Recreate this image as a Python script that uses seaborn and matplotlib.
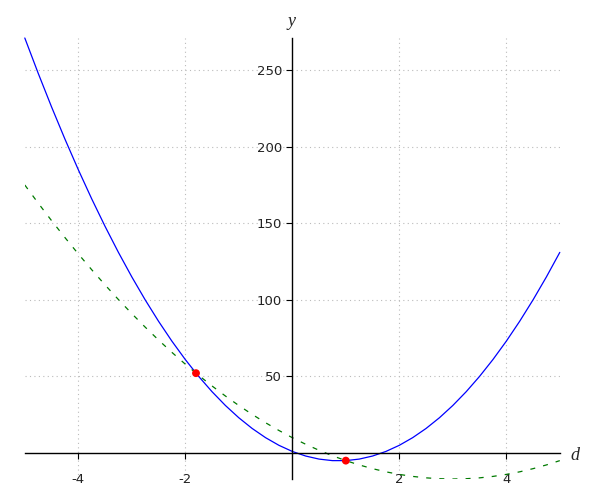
import numpy as np
import pandas as pd
import matplotlib
matplotlib.use("Agg")
import matplotlib.pyplot as plt
import seaborn as sns

# ---- data ----
d_vals = [-5.0, -4.75, -4.5, -4.25, -4.0, -3.75, -3.5, -3.25, -3.0, -2.75,
          -2.5, -2.25, -2.0, -1.75, -1.5, -1.25, -1.0, -0.75, -0.5, -0.25,
          0.0, 0.25, 0.5, 0.75, 1.0, 1.25, 1.5, 1.75, 2.0, 2.25,
          2.5, 2.75, 3.0, 3.25, 3.5, 3.75, 4.0, 4.25, 4.5, 4.75, 5.0]
blue_vals = [271, 248, 226, 205, 185, 166, 148, 131, 115, 100,
             86, 73, 61, 50, 40, 31, 23, 16, 10, 5,
             1, -2, -4, -5, -5, -4, -2, 1, 5, 10,
             16, 23, 31, 40, 50, 61, 73, 86, 100, 115, 131]
green_vals = [175, 163.19, 151.75, 140.69, 130, 119.69, 109.75, 100.19, 91, 82.19,
              73.75, 65.69, 58, 50.69, 43.75, 37.19, 31, 25.19, 19.75, 14.69,
              10, 5.69, 1.75, -1.81, -5, -7.81, -10.25, -12.31, -14, -15.31,
              -16.25, -16.81, -17, -16.81, -16.25, -15.31, -14, -12.31, -10.25, -7.81, -5]
point_d = [-1.8, 1.0]
point_y = [52.12, -5.0]
x_ticks = [-4, -2, 2, 4]
y_ticks = [50, 100, 150, 200, 250]

sns.set_style("white")
plt.rcParams["axes.unicode_minus"] = False
plt.rcParams["font.family"] = ["DejaVu Sans"]

blue_df = pd.DataFrame({"d": d_vals, "y": blue_vals})
green_df = pd.DataFrame({"d": d_vals, "y": green_vals})
pts_df = pd.DataFrame({"d": point_d, "y": point_y})

fig = plt.figure(figsize=(6, 5), dpi=100)
ax = fig.add_axes([24.8 / 600, 1 - 479 / 500, 535 / 600, 441 / 500])

sns.lineplot(data=blue_df, x="d", y="y", ax=ax, color="#0000ff", lw=0.9,
             clip_on=False)
sns.lineplot(data=green_df, x="d", y="y", ax=ax, color="#007a00", lw=0.9,
             dashes=False)
ax.lines[-1].set_dashes((4, 6.5))
sns.scatterplot(data=pts_df, x="d", y="y", ax=ax, color="#ff0000", s=32,
                edgecolor="none", zorder=5, clip_on=False)

ax.set_xlim(-5, 5)
ax.set_ylim(-17, 271)
ax.set_xticks(x_ticks)
ax.set_yticks(y_ticks)
ax.set_xticklabels([str(v) for v in x_ticks])
ax.set_yticklabels([str(v) for v in y_ticks])

for s in ["top", "right"]:
    ax.spines[s].set_visible(False)
ax.spines["left"].set_position(("data", 0))
ax.spines["bottom"].set_position(("data", 0))
for s in ["left", "bottom"]:
    ax.spines[s].set_color("black")
    ax.spines[s].set_linewidth(1.0)

ax.tick_params(axis="y", direction="out", length=4.5, width=0.8, pad=3,
               labelsize=9.5, colors="black", left=True)
ax.tick_params(axis="x", direction="out", length=4.5, width=0.8, pad=10,
               labelsize=9.5, colors="black", bottom=True)
for lab in ax.get_xticklabels() + ax.get_yticklabels():
    lab.set_color("#222222")

ax.grid(True, linestyle=(0, (1, 3)), color="#bbbbbb", linewidth=0.8)
ax.set_axisbelow(True)
ax.set_xlabel("")
ax.set_ylabel("")

fig.text(292 / 600, 1 - 21 / 500, "y", ha="center", va="center",
         family="Liberation Serif", style="italic", fontsize=13)
fig.text(575 / 600, 1 - 455 / 500, "d", ha="center", va="center",
         family="Liberation Serif", style="italic", fontsize=13)

fig.savefig("out.png", dpi=100)
